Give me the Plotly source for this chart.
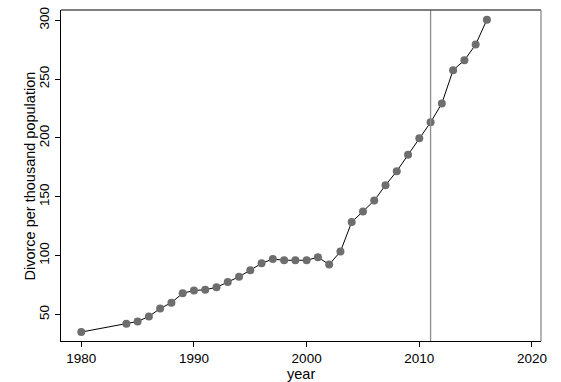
import plotly.graph_objects as go

years = [1980, 1984, 1985, 1986, 1987, 1988, 1989, 1990, 1991, 1992, 1993, 1994,
         1995, 1996, 1997, 1998, 1999, 2000, 2001, 2002, 2003, 2004, 2005, 2006,
         2007, 2008, 2009, 2010, 2011, 2012, 2013, 2014, 2015, 2016]
divorce = [35, 42, 44, 48.3, 55, 60, 68, 70.3, 71, 73, 77.6, 82,
           87.5, 93.5, 97, 96, 96, 96, 98.6, 92.4, 103.4, 128.5, 137.5, 146.8,
           159.8, 171.7, 185.6, 199.7, 213.2, 229.3, 257.6, 266, 279.3, 300.5]
x_ticks = [1980, 1990, 2000, 2010, 2020]
y_ticks = [50, 100, 150, 200, 250, 300]
ref_year = 2011
x_title = "year"
y_title = "Divorce per thousand population"

fam = "Liberation Sans, Arial, sans-serif"
tick_font = dict(family=fam, size=13.5, color="black")
title_font = dict(family=fam, size=14.5, color="black")

fig = go.Figure()
fig.add_trace(go.Scatter(
    x=years, y=divorce, mode="lines+markers",
    line=dict(color="black", width=1),
    marker=dict(color="#6e6e6e", size=8),
    showlegend=False, cliponaxis=False,
))
fig.add_vline(x=ref_year, line=dict(color="#8c8c8c", width=1.3))
# top/right frame
fig.add_shape(type="line", xref="paper", yref="paper", x0=0, x1=1, y0=1, y1=1,
              line=dict(color="#555555", width=1.3))
fig.add_shape(type="line", xref="paper", yref="paper", x0=1, x1=1, y0=0, y1=1,
              line=dict(color="#8c8c8c", width=1.3))

# axis titles
fig.add_annotation(text=x_title, xref="paper", yref="paper", x=0.5, y=-0.1,
                   xanchor="center", yanchor="middle", showarrow=False, font=title_font)
fig.add_annotation(text=y_title, xref="paper", yref="paper", x=-0.0646, y=0.5,
                   xanchor="center", yanchor="middle", textangle=-90,
                   showarrow=False, font=title_font)

fig.update_layout(
    width=561, height=382,
    margin=dict(l=61, r=20, t=10, b=41),
    paper_bgcolor="white", plot_bgcolor="white",
    font=tick_font,
    xaxis=dict(
        range=[1978.2, 2020.8], tickvals=x_ticks, ticks="outside", ticklen=5,
        tickcolor="black", showline=True, linecolor="black", linewidth=1.3,
        showgrid=False, zeroline=False, automargin=False, tickfont=tick_font,
    ),
    yaxis=dict(
        range=[27.4, 308.7], tickvals=y_ticks, ticks="outside", ticklen=5,
        tickcolor="black", showline=True, linecolor="black", linewidth=1.3,
        showgrid=False, zeroline=False, tickangle=-90, automargin=False,
        tickfont=tick_font,
    ),
)
fig.write_html("out.html", config={"displayModeBar": False},
               post_script="document.body.style.margin='0px';document.body.style.overflow='hidden';")
